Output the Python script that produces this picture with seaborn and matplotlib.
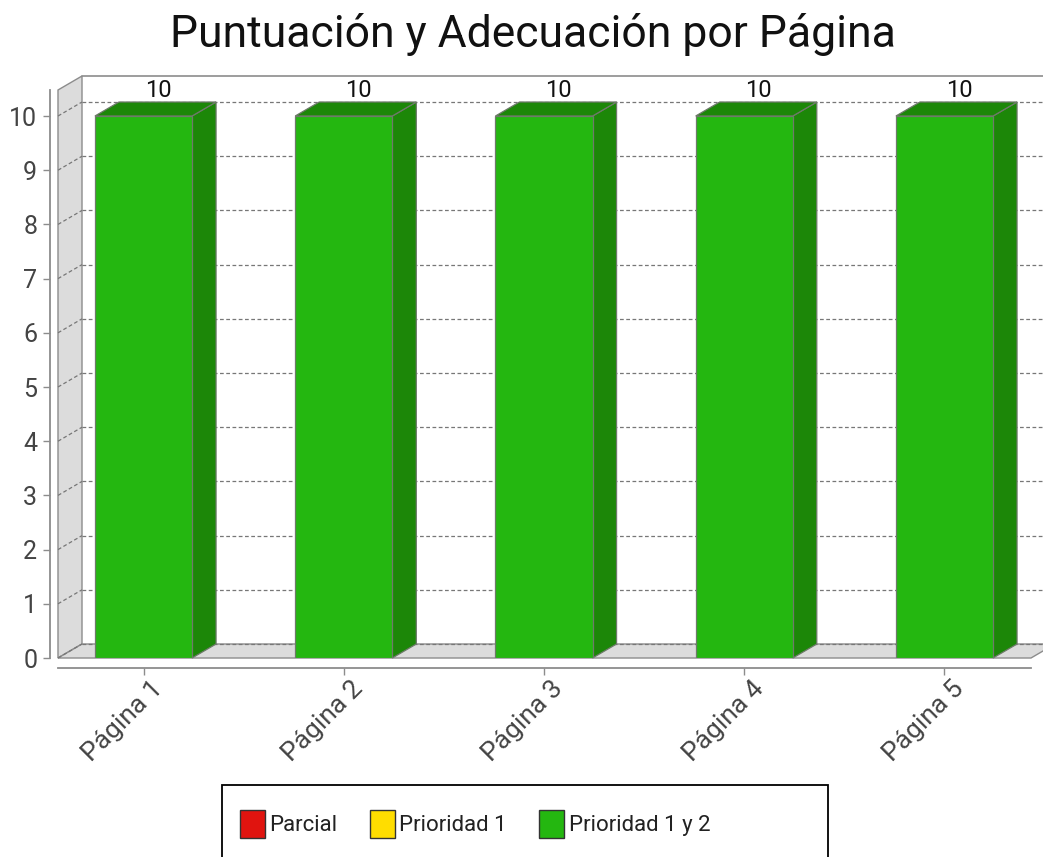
import matplotlib
matplotlib.use("Agg")
import matplotlib.pyplot as plt
import matplotlib.transforms as mtransforms
import seaborn as sns
import pandas as pd
from matplotlib.patches import Polygon, Patch, Rectangle
from matplotlib.lines import Line2D

# ---- data ----
categories = ["Página 1", "Página 2", "Página 3", "Página 4", "Página 5"]
scores = [10, 10, 10, 10, 10]
legend_labels = ["Parcial", "Prioridad 1", "Prioridad 1 y 2"]
legend_colors = ["#e0140f", "#ffdd00", "#24b710"]
yticks = list(range(0, 11))
title = "Puntuación y Adecuación por Página"

sns.set_style("white")
plt.rcParams["font.family"] = ["Roboto", "DejaVu Sans"]

W, H = 1043, 857
fig = plt.figure(figsize=(W / 100, H / 100), dpi=100)
ax = fig.add_axes([58 / W, (H - 658) / H, (1031 - 58) / W, (658 - 90) / H])

df = pd.DataFrame({"page": categories, "score": scores})
front = "#24b710"
dark = "#1c8708"
edge = "#6e7a6a"
sns.barplot(data=df, x="page", y="score", color=front, width=0.485,
            edgecolor=edge, linewidth=0.9, saturation=1, ax=ax, zorder=3)

ax.set_xlim(-0.427, 4.432)
ax.set_ylim(0, 10.48)
ax.set_xlabel("")
ax.set_ylabel("")

# depth offset in data units (24 px right, 14 px up)
inv = ax.transData.inverted()
p0 = inv.transform(ax.transData.transform((0, 0)))
p1 = inv.transform(ax.transData.transform((0, 0)) + [24, 14])
dx, dy = p1[0] - p0[0], p1[1] - p0[1]
xl, xr = ax.get_xlim()
ytop = ax.get_ylim()[1]

wall_c = "#dcdcdc"
line_c = "#8c8c8c"
# left wall
ax.add_patch(Polygon([(xl, 0), (xl + dx, dy), (xl + dx, ytop + dy), (xl, ytop)],
                     closed=True, facecolor=wall_c, edgecolor=line_c, lw=1.0,
                     clip_on=False, zorder=0.5))
# floor
ax.add_patch(Polygon([(xl, 0), (xl + dx, dy), (xr + dx, dy), (xr, 0)],
                     closed=True, facecolor=wall_c, edgecolor=line_c, lw=1.0,
                     clip_on=False, zorder=0.5))
# back top border
ax.add_line(Line2D([xl + dx, xr + dx + 1], [ytop + dy, ytop + dy], color=line_c,
                   lw=1.2, clip_on=False, zorder=0.6))
# gridlines
for yv in yticks:
    ax.add_line(Line2D([xl + dx, xr + dx + 1], [yv + dy, yv + dy], color="#777777",
                       lw=0.9, ls=(0, (3, 2)), clip_on=False, zorder=0.8))
    ax.add_line(Line2D([xl, xl + dx], [yv, yv + dy], color="#777777",
                       lw=0.9, ls=(0, (3, 2)), clip_on=False, zorder=0.8))

# 3D side and top faces for bars
for bar in list(ax.patches):
    if isinstance(bar, Polygon):
        continue
    x0 = bar.get_x()
    x1 = x0 + bar.get_width()
    h = bar.get_height()
    ax.add_patch(Polygon([(x1, 0), (x1 + dx, dy), (x1 + dx, h + dy), (x1, h)],
                         closed=True, facecolor=dark, edgecolor=edge, lw=0.9,
                         clip_on=False, zorder=2.9))
    ax.add_patch(Polygon([(x0, h), (x0 + dx, h + dy), (x1 + dx, h + dy), (x1, h)],
                         closed=True, facecolor=dark, edgecolor=edge, lw=0.9,
                         clip_on=False, zorder=2.9))
    ax.text((x0 + x1) / 2 + dx * 0.6, h + dy, f"{h:g}", ha="center", va="bottom",
            fontsize=17, color="#111111", zorder=5)

# axes styling
for s in ["top", "right"]:
    ax.spines[s].set_visible(False)
ax.spines["left"].set_position(("outward", 6))
ax.spines["bottom"].set_position(("outward", 7))
for s in ["left", "bottom"]:
    ax.spines[s].set_color("#8c8c8c")
    ax.spines[s].set_linewidth(1.3)
ax.set_yticks(yticks)
ax.tick_params(axis="y", direction="out", length=5, width=1, color="#8c8c8c",
               labelsize=18, labelcolor="#444444", pad=4, left=True)
ax.tick_params(axis="x", direction="out", length=5, width=1, color="#8c8c8c",
               labelsize=19, labelcolor="#444444", pad=4, bottom=True)
shift = mtransforms.ScaledTranslation(0.07, 0.04, fig.dpi_scale_trans)
for lab in ax.get_xticklabels():
    lab.set_rotation(45)
    lab.set_ha("right")
    lab.set_va("top")
    lab.set_rotation_mode("anchor")
    lab.set_transform(lab.get_transform() + shift)
ax.set_facecolor("white")

fig.text(532.5 / W, (H - 47) / H, title, ha="center", va="baseline",
         fontsize=32, color="#111111")

handles = [Patch(facecolor=c, edgecolor="#333333", lw=1.0) for c in legend_colors]
leg = fig.legend(handles, legend_labels, loc="center left",
                 bbox_to_anchor=(240 / W, (H - 824) / H), ncol=3, frameon=False,
                 fontsize=16, handlelength=1.13, handleheight=1.6,
                 handletextpad=0.2, columnspacing=1.45, borderpad=0,
                 borderaxespad=0)
for t in leg.get_texts():
    t.set_color("#222222")
fig.add_artist(Rectangle((222 / W, (H - 880) / H), (828 - 222) / W, (880 - 785) / H,
                         transform=fig.transFigure, fill=False, edgecolor="black",
                         lw=1.3, clip_on=False))

fig.savefig("out.png", dpi=100)
